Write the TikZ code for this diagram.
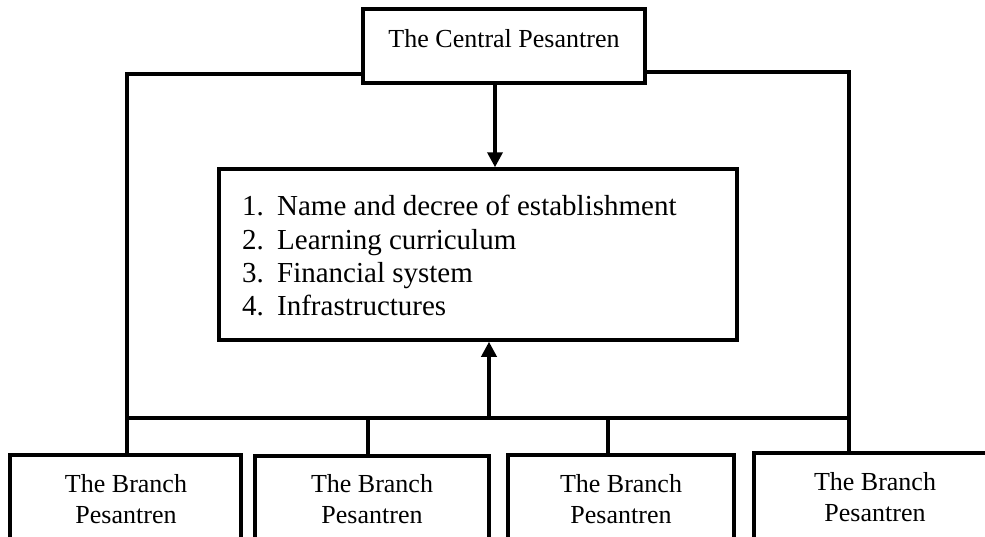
\documentclass[tikz,border=0pt]{standalone}
\usepackage{fontspec}
\setmainfont{Liberation Serif}
\usetikzlibrary{arrows.meta}
\begin{document}
\begin{tikzpicture}[x=1pt,y=-1pt,
  boxshape/.style={draw=black, line width=3.5pt, rectangle, inner sep=0pt, fill=white},
  conn/.style={draw=black, line width=3.5pt},
  arrowconn/.style={conn, -{Triangle[length=15pt,width=15pt]}},
  smalltext/.style={font=\fontsize{26}{31}\selectfont, inner sep=0pt, anchor=base},
  listtext/.style={font=\fontsize{29}{33}\selectfont, inner sep=0pt, anchor=base west}]
\useasboundingbox[fill=white] (0,0) rectangle (985,536);

% central box
\node[boxshape, minimum width=282pt, minimum height=74pt] (central) at (504,46) {};
\node[smalltext] (centraltxt) at (504,47) {The Central Pesantren};

% middle box
\node[boxshape, minimum width=518pt, minimum height=171pt] (mid) at (478,254.5) {};
\node[listtext] (i1) at (242,215) {\makebox[35pt][l]{1.}Name and decree of establishment};
\node[listtext] (i2) at (242,249) {\makebox[35pt][l]{2.}Learning curriculum};
\node[listtext] (i3) at (242,282) {\makebox[35pt][l]{3.}Financial system};
\node[listtext] (i4) at (242,315) {\makebox[35pt][l]{4.}Infrastructures};

% branch boxes
\node[boxshape, minimum width=231pt, minimum height=110pt] (b1) at (125.5,510) {};
\node[boxshape, minimum width=234pt, minimum height=110pt] (b2) at (372,511) {};
\node[boxshape, minimum width=226pt, minimum height=110pt] (b3) at (621,510) {};
\node[boxshape, minimum width=242pt, minimum height=110pt] (b4) at (875,508) {};
\node[smalltext] (t1a) at (126,492) {The Branch};
\node[smalltext] (t1b) at (126,523) {Pesantren};
\node[smalltext] (t2a) at (372,492) {The Branch};
\node[smalltext] (t2b) at (372,523) {Pesantren};
\node[smalltext] (t3a) at (621,492) {The Branch};
\node[smalltext] (t3b) at (621,523) {Pesantren};
\node[smalltext] (t4a) at (875,490) {The Branch};
\node[smalltext] (t4b) at (875,521) {Pesantren};

% coordinates for connectors
\coordinate (lt) at (127,74);
\coordinate (rt) at (849,72);
\coordinate (busL) at (127,418);
\coordinate (busR) at (849,418);
\coordinate (s2) at (368,418);
\coordinate (s3) at (608,418);
\coordinate (up) at (489,418);
\coordinate (dn) at (495,0);

% connectors
\draw[conn] (lt -| central.west) -- (lt) -- (lt |- b1.north);
\draw[conn] (rt -| central.east) -- (rt) -- (rt |- b4.north);
\draw[conn] (busL) -- (busR);
\draw[conn] (s2) -- (s2 |- b2.north);
\draw[conn] (s3) -- (s3 |- b3.north);
\draw[arrowconn] (up) -- (up |- mid.south);
\draw[arrowconn] (dn |- central.south) -- (dn |- mid.north);
\end{tikzpicture}
\end{document}
